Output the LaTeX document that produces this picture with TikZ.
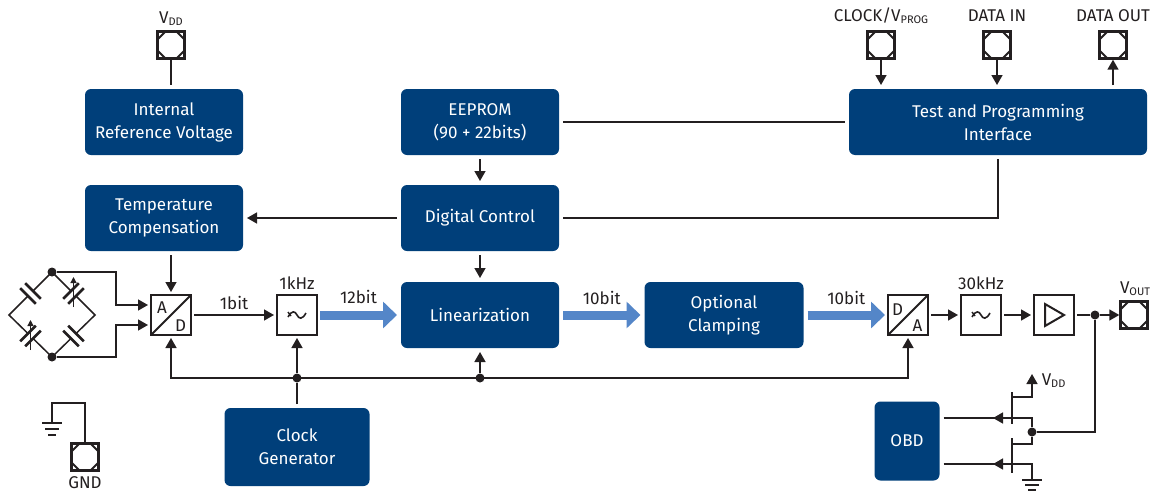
\documentclass[tikz,border=0pt]{standalone}
\usepackage{fontspec}
\setmainfont{Fira Sans}
\usetikzlibrary{arrows.meta,calc}
\definecolor{ifxblue}{RGB}{0,63,122}
\definecolor{busblue}{RGB}{84,134,200}
\definecolor{ink}{RGB}{35,31,32}
\newcommand{\lowidx}[1]{\raisebox{-2pt}{\fontsize{11}{11}\selectfont #1}}
\tikzset{
  blk/.style={fill=ifxblue, text=white, rounded corners=6pt, align=center,
    minimum width=158pt, minimum height=66pt, inner sep=0pt, outer sep=4pt,
    font=\fontsize{17}{23}\selectfont},
  conv/.style={draw, line width=2.2pt, fill=white, minimum size=40pt,
    inner sep=0pt, outer sep=3pt},
  adconv/.style={conv, path picture={\draw[line width=2pt]
    (path picture bounding box.south west) -- (path picture bounding box.north east);}},
  padbox/.style={draw, line width=2.4pt, fill=white, minimum size=27pt, inner sep=0pt,
    path picture={
      \foreach \c/\dx/\dy in {north west/1/-1, north east/-1/-1, south west/1/1, south east/-1/1}
        \draw[line width=2pt] ([xshift=\dx*8pt]path picture bounding box.\c)
          -- ([yshift=\dy*8pt]path picture bounding box.\c);}},
  junction/.style={circle, fill, inner sep=0pt, minimum size=9pt},
  arr/.style={-{Triangle[length=10pt,width=11pt]}},
  arrs/.style={{Triangle[length=10pt,width=11pt]}-{Triangle[length=10pt,width=11pt]}},
  fat/.style={busblue, line width=9pt, -{Triangle[length=14pt,width=26pt]}},
  lbl/.style={text=ink, inner sep=0pt, font=\fontsize{17}{19}\selectfont},
  capa/.pic={
    \fill[white] (-4,-12) rectangle (4,12);
    \draw[line width=2.6pt] (-3.5,-11) -- (-3.5,11) (3.5,-11) -- (3.5,11);},
  lpsym/.pic={
    \draw[line width=1.6pt] (-9,2) .. controls (-5,-5) and (-2,-4) .. (0,0)
      .. controls (2,4) and (5,5) .. (9,-2);
    \draw[line width=1.4pt] (-9,-3) -- (-6,1);},
  ampsym/.pic={
    \draw[line width=2pt, line join=miter] (-9,-11) -- (10,0) -- (-9,11) -- cycle;},
}
\begin{document}
\begin{tikzpicture}[x=1pt, y=-1pt, line width=1.5pt, color=ink]
\useasboundingbox (0,0) rectangle (1158,493);
% blocks
\node[blk] (irv) at (164,122) {Internal\\Reference Voltage};
\node[blk] (ee) at (480,122) {EEPROM\\(90 + 22bits)};
\node[blk, minimum width=298pt] (tpi) at (998,122) {Test and Programming\\Interface};
\node[blk] (tc) at (164,218) {Temperature\\Compensation};
\node[blk] (dc) at (480,218) {Digital Control};
\node[blk] (lin) at (480,315) {Linearization};
\node[blk, minimum width=159pt] (clamp) at (724,315) {Optional\\Clamping};
\node[blk, minimum width=145pt, minimum height=78pt] (cg) at (297,447) {Clock\\Generator};
\node[blk, minimum width=65pt, minimum height=79pt] (obd) at (907,441) {OBD};
% signal chain
\node[adconv] (ad) at (171,315) {};
\node[conv] (lpfa) at (297,315) {};
\node[adconv] (da) at (908,315) {};
\node[conv] (lpfb) at (981,315) {};
\node[conv] (amp) at (1054,315) {};
\pic at (lpfa) {lpsym};
\pic at (lpfb) {lpsym};
\pic at (amp) {ampsym};
\node[lbl, anchor=base] at (162,313) {A};
\node[lbl, anchor=base] at (180.5,331) {D};
\node[lbl, anchor=base] at (897.5,315) {D};
\node[lbl, anchor=base] at (917.5,331) {A};
\node[lbl, anchor=base] at (297,289) {1kHz};
\node[lbl, anchor=base] at (981,289) {30kHz};
% pads
\node[padbox] (vddp) at (171,45) {};
\node[padbox] (clkp) at (881,45) {};
\node[padbox] (dinp) at (997,45) {};
\node[padbox] (doutp) at (1113,45) {};
\node[padbox] (voutp) at (1134,315) {};
\node[padbox] (gndp) at (85,457) {};
\node[lbl, anchor=base] at (171,23) {V\lowidx{DD}};
\node[lbl, anchor=base] at (881,21) {CLOCK/V\lowidx{PROG}};
\node[lbl, anchor=base] at (997,21) {DATA IN};
\node[lbl, anchor=base] at (1113,21) {DATA OUT};
\node[lbl, anchor=base] at (1135,293) {V\lowidx{OUT}};
\node[lbl, anchor=base] at (85,488) {GND};
% sensor bridge
\coordinate (btop) at (52,272);
\coordinate (bright) at (95,315);
\coordinate (bbot) at (52,357);
\coordinate (bleft) at (9,315);
\draw (bleft) -- (btop) -- (bright) -- (bbot) -- cycle;
\pic[rotate=45] at ($(bleft)!0.5!(btop)$) {capa};
\pic[rotate=-45] at ($(btop)!0.5!(bright)$) {capa};
\pic[rotate=45] at ($(bbot)!0.5!(bright)$) {capa};
\pic[rotate=-45] at ($(bleft)!0.5!(bbot)$) {capa};
\draw[line width=1.3pt, -{Triangle[length=6pt,width=6pt]}] (73.5,307) -- (73.5,277);
\draw[line width=1.3pt, -{Triangle[length=6pt,width=6pt]}] (30.5,350) -- (30.5,320);
\node[junction] (jtop) at (btop) {};
\node[junction] (jbot) at (bbot) {};
\draw[arr] (jtop) -- (116,272) |- ([yshift=10pt]ad.west);
\draw[arr] (jbot) -- (116,357) |- ([yshift=-10pt]ad.west);
% control connections
\draw (vddp) -- (vddp |- irv.north);
\draw[arr] (clkp) -- (clkp |- tpi.north);
\draw[arr] (dinp) -- (dinp |- tpi.north);
\draw[arr] (doutp |- tpi.north) -- (doutp);
\draw (ee) -- (tpi);
\draw (dc) -| (tpi);
\draw[arr] (ee) -- (dc);
\draw[arr] (dc) -- (tc);
\draw[arr] (dc) -- (lin);
\draw[arr] (tc.south -| ad) -- (ad);
% data path
\draw[arr] (ad) -- node[lbl, anchor=base, yshift=6pt] {1bit} (lpfa);
\draw[fat] (lpfa) -- node[lbl, anchor=base, yshift=12pt] {12bit} (lin);
\draw[fat] (lin) -- node[lbl, anchor=base, yshift=11pt] {10bit} (clamp);
\draw[fat] (clamp) -- node[lbl, anchor=base, yshift=11pt] {10bit} (da);
\draw[arr] (da) -- (lpfb);
\draw[arr] (lpfb) -- (amp);
\node[junction] (odot) at (1095,315) {};
\draw (amp) -- (odot);
\draw[arr] (odot) -- (voutp);
% clock bus
\coordinate (busl) at (171,378);
\coordinate (busr) at (908,378);
\node[junction] (jclk) at (297,378) {};
\node[junction] (jlin) at (480,378) {};
\draw[arrs] (ad) -- (busl) -- (busr) -- (da);
\draw[arr] (jclk) -- (lpfa);
\draw[arr] (jlin) -- (lin);
\draw (cg) -- (jclk);
% output driver
\node[junction] (jout) at (1032,432) {};
\draw[line width=2pt] (1012,392) -- (1012,424);
\draw[line width=2pt] (1012,438) -- (1012,473);
\draw[arr] (1012,397) -- (1032,397) -- (1032,374);
\node[lbl, anchor=base west] at (1041,385) {V\lowidx{DD}};
\draw ([yshift=23pt]obd.east) -- (1032,418) -- (jout);
\draw ([yshift=-23pt]obd.east) -- (1032,464) -- (1032,480);
\draw (1012,444) -- (1032,444) -- (jout);
\draw[arr] (1012,418) -- (993,418);
\draw[arr] (1012,464) -- (993,464);
\draw (1022,480) -- (1042,480) (1025,485) -- (1039,485) (1028,490) -- (1036,490);
\draw (jout) -- (1095,432) -- (odot);
% ground pad
\draw (gndp) -- (85,403) -- (52,403) -- (52,423);
\draw (42,423) -- (62,423) (45,429) -- (59,429) (48,435) -- (56,435);
\end{tikzpicture}
\end{document}
